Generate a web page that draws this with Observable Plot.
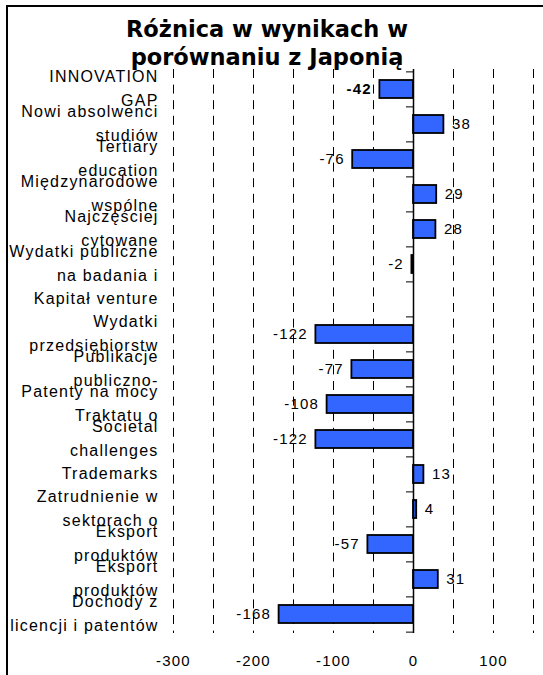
<!DOCTYPE html>
<html>
<head>
<meta charset="utf-8">
<script src="https://cdn.jsdelivr.net/npm/d3@7"></script>
<script src="https://cdn.jsdelivr.net/npm/@observablehq/plot@0.6"></script>
<style>
  html, body { margin: 0; padding: 0; background: #fff; overflow: hidden; }
  #wrap { position: relative; width: 543px; height: 675px; overflow: hidden; }
  #border { position: absolute; left: 6px; top: 5px; width: 600px; height: 720px; border: 2px solid #000; box-sizing: border-box; }
  #title { position: absolute; left: 0; width: 534px; top: 15px; text-align: center;
           font-family: "DejaVu Sans", Verdana, sans-serif; font-weight: bold; font-size: 22.5px; line-height: 28px; color: #000; z-index: 2; }
  #chart { position: absolute; left: 0; top: 0; }
  #chart svg text { letter-spacing: 1.2px; }
</style>
</head>
<body>
<div id="wrap">
  <div id="border"></div>
  <div id="chart"></div>
  <div id="title">Różnica w wynikach w<br>porównaniu z Japonią</div>
</div>
<script>
const categories = [
  "INNOVATION\nGAP",
  "Nowi absolwenci\nstudiów",
  "Tertiary\neducation",
  "Międzynarodowe\nwspólne",
  "Najczęściej\ncytowane",
  "Wydatki publiczne\nna badania i",
  "Kapitał venture",
  "Wydatki\nprzedsiębiorstw",
  "Publikacje\npubliczno-",
  "Patenty na mocy\nTraktatu o",
  "Societal\nchallenges",
  "Trademarks",
  "Zatrudnienie w\nsektorach o",
  "Eksport\nproduktów",
  "Eksport\nproduktów",
  "Dochody z\nlicencji i patentów"
];
const values = [-42, 38, -76, 29, 28, -2, null, -122, -77, -108, -122, 13, 4, -57, 31, -168];
const xTicks = [-300, -200, -100, 0, 100];
const gridValues = [-300, -250, -200, -150, -100, -50, 50, 100, 150];

const rows = categories.map((label, i) => ({i, label, value: values[i]}));
const withValue = rows.filter(d => d.value != null);
const step = 564 / categories.length;

const font = "'Liberation Sans', Arial, sans-serif";

const chart = Plot.plot({
  width: 543,
  height: 675,
  marginTop: 69,
  marginBottom: 42,
  marginLeft: 173,
  marginRight: 10,
  style: {fontFamily: font, background: "transparent", overflow: "visible"},
  x: {domain: [-300, 150], axis: null},
  y: {domain: d3.range(categories.length), paddingInner: 0.49, paddingOuter: 0.245, axis: null},
  marks: [
    Plot.ruleX(gridValues, {stroke: "#000", strokeWidth: 1, strokeDasharray: "9,6.6"}),
    Plot.barX(withValue, {y: "i", x: "value", fill: "#3366FF", stroke: "#000", strokeWidth: 1.8}),
    Plot.ruleX([0], {stroke: "#000", strokeWidth: 1.5}),
    Plot.ruleY(rows, {y: "i", x1: -8.75, x2: 0, dy: -step / 2, stroke: "#000", strokeWidth: 1}),
    Plot.ruleY(rows.slice(-1), {y: "i", x1: -8.75, x2: 0, dy: step / 2, stroke: "#000", strokeWidth: 1}),
    Plot.text(rows, {y: "i", text: "label", frameAnchor: "left", dx: -15, dy: -3, textAnchor: "end", lineHeight: 1.5,
      fontSize: 16, fill: "#000", fontFamily: font}),
    Plot.text(withValue.filter(d => d.i === 0), {y: "i", x: "value", text: d => String(d.value), textAnchor: "end", dx: -8,
      fontSize: 15, fontWeight: "bold", fill: "#000"}),
    Plot.text(withValue.filter(d => d.i !== 0 && d.value < 0), {y: "i", x: "value", text: d => String(d.value), textAnchor: "end", dx: -8,
      fontSize: 15, fill: "#000"}),
    Plot.text(withValue.filter(d => d.value >= 0), {y: "i", x: "value", text: d => String(d.value), textAnchor: "start", dx: 8,
      fontSize: 15, fill: "#000"}),
    Plot.text(xTicks, {x: d => d, text: d => String(d), frameAnchor: "bottom", dy: 32, textAnchor: "middle",
      fontSize: 15, fill: "#000"})
  ]
});
document.getElementById("chart").appendChild(chart);
</script>
</body>
</html>
